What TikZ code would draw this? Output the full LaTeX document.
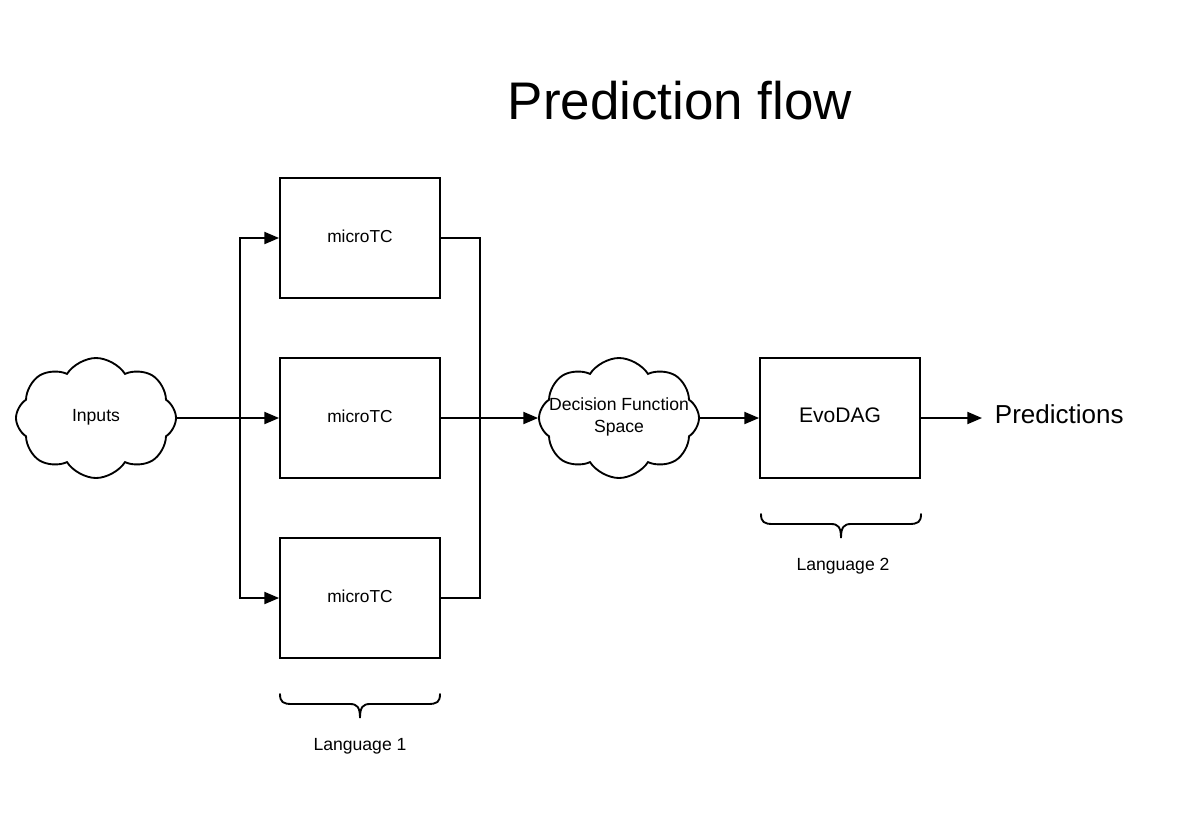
\documentclass[tikz,border=0pt]{standalone}
\usepackage{fontspec}
\setmainfont{Liberation Sans}
\usetikzlibrary{shapes.symbols,arrows.meta}
\begin{document}
\begin{tikzpicture}[x=0.75pt,y=-0.75pt,
  line width=1.4pt,
  arr/.style={-{Triangle[length=11pt,width=9pt]}},
  box/.style={draw,minimum width=120pt,minimum height=90pt,inner sep=0pt,font=\fontsize{13}{15}\selectfont,text depth=0pt,text height=7pt},
  cloudnode/.style={draw,cloud,cloud puffs=8,cloud puff arc=115,aspect=1.3,minimum width=120pt,minimum height=90pt,inner sep=0pt},
  lbl/.style={font=\fontsize{13.2}{16.5}\selectfont,align=center,inner sep=0pt},
  brace/.style={line width=1.4pt,line cap=round}]
\useasboundingbox[fill=white] (0,0) rectangle (1180,818);
\node[font=\fontsize{39.7}{46}\selectfont] (title) at (680,101) {Prediction flow};
\node[cloudnode,label={[lbl,yshift=0.6pt]center:Inputs}] (in) at (96,418) {};
\node[box] (m1) at (360,238) {microTC};
\node[box] (m2) at (360,418) {microTC};
\node[box] (m3) at (360,598) {microTC};
\node[cloudnode,label={[lbl,yshift=1pt]center:Decision Function\\Space}] (dfs) at (619,418) {};
\node[box,font=\fontsize{15.8}{18}\selectfont,text height=6.8pt] (evo) at (840,418) {EvoDAG};
\node[anchor=west,inner sep=0pt,font=\fontsize{19.5}{22}\selectfont] (pred) at (994,414) {Predictions};
\coordinate (sL) at (240,418);
\coordinate (sR) at (480,418);
\coordinate (pa) at (982,418);
\draw[arr] (in.east) -- (m2.west);
\draw[arr] (sL) |- (m1.west);
\draw[arr] (sL) |- (m3.west);
\draw (m1.east) -| (sR);
\draw (m3.east) -| (sR);
\draw[arr] (m2.east) -- (dfs.west);
\draw[arr] (dfs.east) -- (evo.west);
\draw[arr] (evo.east) -- (pa);
\draw[brace] (280,694) .. controls (280,702) and (283,704) .. (292,704) -- (350,704) .. controls (357,704) and (360,707) .. (360,718) .. controls (360,707) and (363,704) .. (370,704) -- (428,704) .. controls (437,704) and (440,702) .. (440,694);
\node[lbl] (l1) at (360,746) {Language 1};
\draw[brace] (761,514) .. controls (761,522) and (764,524) .. (773,524) -- (831,524) .. controls (838,524) and (841,527) .. (841,538) .. controls (841,527) and (844,524) .. (851,524) -- (909,524) .. controls (918,524) and (921,522) .. (921,514);
\node[lbl] (l2) at (843,566) {Language 2};
\end{tikzpicture}
\end{document}
